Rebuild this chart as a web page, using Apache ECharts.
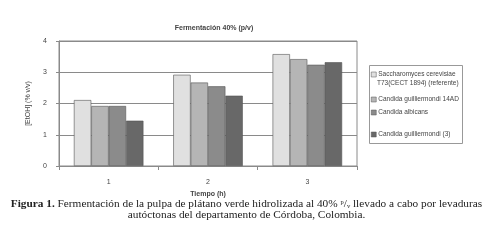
<!DOCTYPE html>
<html><head><meta charset="utf-8">
<script src="https://cdn.jsdelivr.net/npm/echarts@6/dist/echarts.min.js"></script>
<style>html,body{margin:0;padding:0;background:#fff}#c{width:493px;height:248px}</style>
</head><body><div id="c"></div>
<script>
var categories = ['1', '2', '3'];
var seriesNames = ['Saccharomyces cerevisiae T73(CECT 1894) (referente)', 'Candida guilliermondi 14AD', 'Candida albicans', 'Candida guilliermondi (3)'];
var legendFirstLine = ['Saccharomyces cerevisiae', 'Candida guilliermondi 14AD', 'Candida albicans', 'Candida guilliermondi (3)'];
var legendSecondLine = 'T73(CECT 1894) (referente)';
var sCerevisiae = [2.11, 2.92, 3.58];
var cGuill14AD = [1.92, 2.67, 3.42];
var cAlbicans = [1.92, 2.55, 3.24];
var cGuill3 = [1.45, 2.25, 3.32];
var yTicks = [0, 1, 2, 3, 4];
var colors = ['#e0e0e0', '#b5b5b5', '#8b8b8b', '#686868'];
var values = [sCerevisiae, cGuill14AD, cAlbicans, cGuill3];
var legendTops = [71, 96, 109, 131];

var chart = echarts.init(document.getElementById('c'));
var series = values.map(function (v, i) {
  return {
    name: seriesNames[i], type: 'bar', data: v,
    barGap: '0%', barCategoryGap: '30%',
    itemStyle: { color: colors[i], borderColor: '#555', borderWidth: 0.6 }
  };
});
var legends = seriesNames.map(function (n, i) {
  return {
    orient: 'vertical', left: 369, top: legendTops[i], padding: [0, 0, 0, 2],
    itemWidth: 5, itemHeight: 5, icon: 'rect',
    itemStyle: { borderColor: '#555', borderWidth: 0.5 },
    textStyle: { fontSize: 6.5, color: '#444', padding: [0, 0, 0, -3] },
    formatter: function () { return legendFirstLine[i]; },
    data: [n]
  };
});
chart.setOption({
  animation: false,
  textStyle: { fontFamily: 'Liberation Sans' },
  title: {
    text: 'Fermentación 40% (p/v)', left: 209, top: 20, textAlign: 'center',
    textStyle: { fontSize: 7, fontWeight: 'bold', color: '#444', fontFamily: 'Liberation Sans' }
  },
  grid: { left: 59, right: 136, top: 41, bottom: 82, show: true, borderColor: '#8a8a8a', borderWidth: 1 },
  legend: legends,
  xAxis: {
    type: 'category', data: categories,
    name: 'Tiempo (h)', nameLocation: 'middle', nameGap: 25,
    nameTextStyle: { fontSize: 7, fontWeight: 'bold', color: '#444' },
    axisLine: { lineStyle: { color: '#8a8a8a' } },
    axisTick: { show: true, length: 4, lineStyle: { color: '#8a8a8a' } },
    axisLabel: { fontSize: 7, color: '#444', margin: 13 }
  },
  yAxis: {
    type: 'value', min: 0, max: 4, interval: 1,
    name: '[EtOH] (% v/v)', nameLocation: 'middle', nameGap: 27,
    nameTextStyle: { fontSize: 7, color: '#444' },
    axisLine: { show: true, lineStyle: { color: '#8a8a8a' } },
    axisTick: { show: true, length: 3, lineStyle: { color: '#8a8a8a' } },
    axisLabel: { fontSize: 7, color: '#444', margin: 12 },
    splitLine: { lineStyle: { color: '#8a8a8a', width: 1 } }
  },
  graphic: [
    {
      type: 'rect', left: 369, top: 65, z: -1,
      shape: { width: 93, height: 78 },
      style: { fill: '#fff', stroke: '#999', lineWidth: 1 }
    },
    {
      type: 'text', left: 377, top: 80,
      style: { text: legendSecondLine, font: '6.5px "Liberation Sans"', fill: '#444' }
    },
    {
      type: 'text', left: 'center', top: 199,
      style: {
        text: '{b|Figura 1.} Fermentación de la pulpa de plátano verde hidrolizada al 40% {sup|p}/{sub|v} llevado a cabo por levaduras',
        font: '11.3px "Liberation Serif"', fill: '#222',
        rich: {
          b: { fontWeight: 'bold', fontSize: 11.3, fontFamily: 'Liberation Serif' },
          sup: { fontSize: 6.5, verticalAlign: 'top', fontFamily: 'Liberation Serif' },
          sub: { fontSize: 6.5, verticalAlign: 'bottom', fontFamily: 'Liberation Serif' }
        }
      }
    },
    {
      type: 'text', left: 'center', top: 210,
      style: { text: 'autóctonas del departamento de Córdoba, Colombia.', font: '11.3px "Liberation Serif"', fill: '#222' }
    }
  ],
  series: series
});
</script></body></html>
